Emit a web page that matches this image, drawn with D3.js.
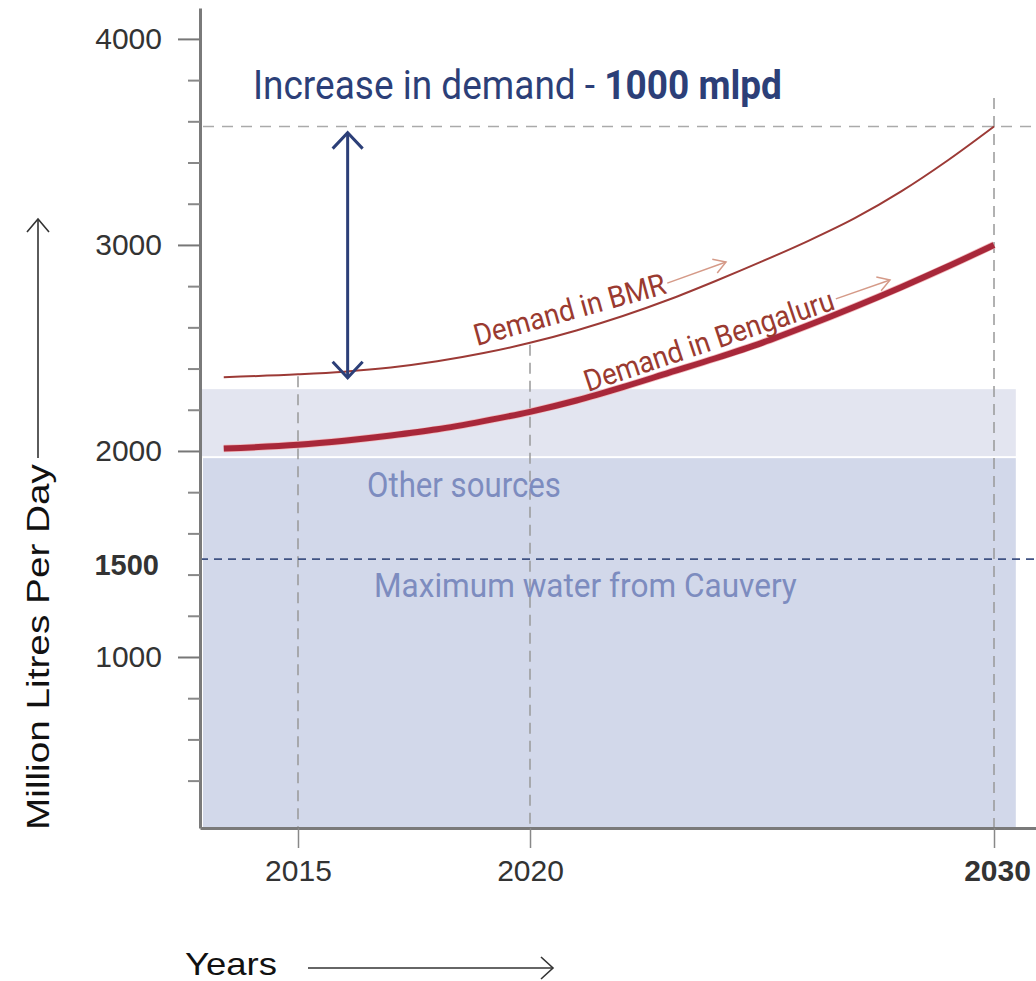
<!DOCTYPE html>
<html>
<head>
<meta charset="utf-8">
<script src="https://cdn.jsdelivr.net/npm/d3@7"></script>
<style>
  html, body { margin: 0; padding: 0; background: #fff; }
  svg { display: block; }
  .narrow { font-family: "Liberation Sans Narrow", "Roboto", "Liberation Sans", sans-serif; }
  .sans { font-family: "Liberation Sans", Arial, Helvetica, sans-serif; }
</style>
</head>
<body>
<div id="chart"></div>
<script>
// years on the x axis and the two demand curves (million litres per day)
const years = [2013.4, 2015, 2016, 2017, 2018, 2019, 2020, 2021, 2022, 2023, 2024, 2025, 2026, 2027, 2028, 2029, 2030];
const demandBengaluru = [2012, 2030, 2050, 2075, 2105, 2145, 2190, 2245, 2310, 2380, 2450, 2525, 2610, 2700, 2795, 2895, 3000];
const demandBMR = [2358, 2372, 2385, 2405, 2435, 2475, 2525, 2585, 2655, 2735, 2825, 2920, 3020, 3130, 3260, 3410, 3575];

// supply bands (top value of each band) and the Cauvery limit
const supplyBands = [
  {name: "total", top: 2300},
  {name: "Other sources", top: 1970}
];
const cauveryMax = 1475;
const bandEndYear = 2030.47;

// axis ticks
const yMajorTicks = [1000, 2000, 3000, 4000];
const yMinorTicks = d3.range(400, 4000, 200).filter(v => v % 1000 !== 0);
const xTicks = [2015, 2020, 2030];

// the increase-in-demand arrow
const increaseArrow = {year: 2016.07, from: 2355, to: 3545};

const width = 1036, height = 981;

const svg = d3.select("#chart")
  .append("svg")
  .attr("width", width)
  .attr("height", height);

const x = d3.scaleLinear()
  .domain([2012.888, 2030.905])
  .range([200, 1036]);

const y = d3.scaleLinear()
  .domain([170, 4150])
  .range([828, 8]);

// squeeze a text horizontally so it spans the given width (condensed look)
function narrowText(parent, tx, ty, w, angle) {
  const g = parent.append("g");
  const t = g.append("text").attr("class", "narrow");
  return {
    t: t,
    fit: function () {
      const natural = t.node().getComputedTextLength();
      g.attr("transform", `translate(${tx},${ty}) rotate(${angle || 0}) scale(${w / natural},1)`);
      return t;
    }
  };
}

// shaded supply bands
svg.append("rect")
  .attr("x", x.range()[0])
  .attr("y", y(supplyBands[0].top))
  .attr("width", x(bandEndYear) - x.range()[0])
  .attr("height", y(supplyBands[1].top) - y(supplyBands[0].top) - 1)
  .attr("fill", "#e3e5f0");

svg.append("rect")
  .attr("x", x.range()[0] + 3)
  .attr("y", y(supplyBands[1].top) + 1)
  .attr("width", x(bandEndYear) - x.range()[0] - 3)
  .attr("height", y.range()[0] - y(supplyBands[1].top) - 1)
  .attr("fill", "#d2d8ea");

// horizontal dashed line at BMR 2030 demand
svg.append("line")
  .attr("x1", x.range()[0] + 3).attr("x2", width)
  .attr("y1", y(demandBMR[demandBMR.length - 1]))
  .attr("y2", y(demandBMR[demandBMR.length - 1]))
  .attr("stroke", "#aaa")
  .attr("stroke-width", 1.5)
  .attr("stroke-dasharray", "11,8");

// vertical dashed gridlines
const gridTop = {2015: y(demandBMR[1]) + 2, 2020: y(demandBMR[6]) + 2, 2030: 98};
svg.append("g")
  .selectAll("line")
  .data(xTicks)
  .enter()
  .append("line")
  .attr("x1", d => x(d)).attr("x2", d => x(d))
  .attr("y1", d => gridTop[d])
  .attr("y2", y.range()[0])
  .attr("stroke", "#999")
  .attr("stroke-width", 1.5)
  .attr("stroke-dasharray", "11,7");

// Cauvery max dashed line
svg.append("line")
  .attr("x1", x.range()[0]).attr("x2", width)
  .attr("y1", y(cauveryMax)).attr("y2", y(cauveryMax))
  .attr("stroke", "#3f5283")
  .attr("stroke-width", 1.6)
  .attr("stroke-dasharray", "8,6");

// band labels
const other = narrowText(svg, 367, 497, 194);
other.t.attr("font-size", 35).attr("fill", "#7d8cbf").text("Other sources");
other.fit();

const cauv = narrowText(svg, 374, 597, 423);
cauv.t.attr("font-size", 33).attr("fill", "#7d8cbf").text("Maximum water from Cauvery");
cauv.fit();

// demand curves
const line = d3.line()
  .x((d, i) => x(years[i]))
  .y(d => y(d))
  .curve(d3.curveMonotoneX);

svg.append("path")
  .datum(demandBMR)
  .attr("fill", "none")
  .attr("stroke", "#9c3a36")
  .attr("stroke-width", 2)
  .attr("d", line);

svg.append("path")
  .datum(demandBengaluru)
  .attr("fill", "none")
  .attr("stroke", "#f2b8bc")
  .attr("stroke-width", 7.5)
  .attr("d", line);

svg.append("path")
  .datum(demandBengaluru)
  .attr("fill", "none")
  .attr("stroke", "#a8283a")
  .attr("stroke-width", 6)
  .attr("d", line);

// y axis
const yAxisMajor = d3.axisLeft(y)
  .tickValues(yMajorTicks)
  .tickSize(22)
  .tickSizeOuter(0)
  .tickPadding(16)
  .tickFormat(d3.format("d"));

const gy = svg.append("g")
  .attr("transform", `translate(${x.range()[0]},0)`)
  .call(yAxisMajor);

gy.select(".domain").attr("stroke", "#7a7a7a").attr("stroke-width", 3);
gy.selectAll(".tick line").attr("stroke", "#777").attr("stroke-width", 2);
gy.selectAll(".tick text")
  .attr("class", "sans")
  .attr("font-size", 30)
  .attr("fill", "#333");

const gyMinor = svg.append("g")
  .attr("transform", `translate(${x.range()[0]},0)`)
  .call(d3.axisLeft(y).tickValues(yMinorTicks).tickSize(12).tickFormat(""));
gyMinor.select(".domain").remove();
gyMinor.selectAll(".tick line").attr("stroke", "#888").attr("stroke-width", 2);

// bold 1500 label at the Cauvery line
svg.append("text")
  .attr("class", "sans")
  .attr("x", 159)
  .attr("y", y(cauveryMax))
  .attr("dy", "0.55em")
  .attr("text-anchor", "end")
  .attr("font-size", 29)
  .attr("font-weight", "bold")
  .attr("fill", "#333")
  .text("1500");

// x axis
const gx = svg.append("g")
  .attr("transform", `translate(0,${y.range()[0]})`)
  .call(d3.axisBottom(x).tickValues(xTicks).tickSize(20).tickSizeOuter(0).tickPadding(12).tickFormat(d3.format("d")));

gx.select(".domain").attr("stroke", "#7a7a7a").attr("stroke-width", 3);
gx.selectAll(".tick line").attr("stroke", "#888").attr("stroke-width", 1.5);
gx.selectAll(".tick text")
  .attr("class", "sans")
  .attr("font-size", 30)
  .attr("fill", "#333")
  .attr("font-weight", d => d === 2030 ? "bold" : "normal")
  .attr("dx", d => d === 2030 ? 3 : 0);

// increase in demand arrow (double headed)
const ax = x(increaseArrow.year);
const aTop = y(increaseArrow.to), aBot = y(increaseArrow.from);
const navy = "#2c3f78";
svg.append("line")
  .attr("x1", ax).attr("x2", ax)
  .attr("y1", aTop + 1).attr("y2", aBot - 1)
  .attr("stroke", navy).attr("stroke-width", 3);
svg.append("path")
  .attr("d", `M${ax - 15},${aTop + 16}L${ax},${aTop}L${ax + 15},${aTop + 16}`)
  .attr("fill", "none").attr("stroke", navy).attr("stroke-width", 3);
svg.append("path")
  .attr("d", `M${ax - 15},${aBot - 16}L${ax},${aBot}L${ax + 15},${aBot - 16}`)
  .attr("fill", "none").attr("stroke", navy).attr("stroke-width", 3);

// title
const title = narrowText(svg, 253, 99, 529);
title.t.attr("font-size", 41).attr("fill", navy);
title.t.append("tspan").text("Increase in demand - ");
title.t.append("tspan").attr("font-weight", "bold").text("1000 mlpd");
title.fit();

// curve labels with small arrows
function curveLabel(text, x0, y0, angle, len, size, arrowTo) {
  const lbl = narrowText(svg, x0, y0, len, angle);
  lbl.t.attr("font-size", size).attr("fill", "#9a3a30").text(text);
  lbl.fit();
  const rad = angle * Math.PI / 180;
  const ex = x0 + len * Math.cos(rad), ey = y0 + len * Math.sin(rad);
  const sx = ex + 2 * Math.sin(rad), sy = ey - 10;
  svg.append("line")
    .attr("x1", sx).attr("y1", sy)
    .attr("x2", arrowTo[0]).attr("y2", arrowTo[1])
    .attr("stroke", "#d59a88").attr("stroke-width", 1.5);
  const a = Math.atan2(arrowTo[1] - sy, arrowTo[0] - sx);
  const h = 14, spread = 0.55;
  svg.append("path")
    .attr("d", `M${arrowTo[0] - h * Math.cos(a - spread)},${arrowTo[1] - h * Math.sin(a - spread)}` +
      `L${arrowTo[0]},${arrowTo[1]}` +
      `L${arrowTo[0] - h * Math.cos(a + spread)},${arrowTo[1] - h * Math.sin(a + spread)}`)
    .attr("fill", "none").attr("stroke", "#d59a88").attr("stroke-width", 1.5);
}

curveLabel("Demand in BMR", 477, 346, -15.5, 198, 30, [726, 262]);
curveLabel("Demand in Bengaluru", 588, 392, -18.5, 262, 30, [890, 280]);

// axis titles with arrows
svg.append("text")
  .attr("class", "sans")
  .attr("transform", "translate(49,830) rotate(-90)")
  .attr("font-size", 31)
  .attr("fill", "#111")
  .attr("textLength", 366)
  .attr("lengthAdjust", "spacingAndGlyphs")
  .text("Million Litres Per Day");

svg.append("line")
  .attr("x1", 38).attr("x2", 38).attr("y1", 458).attr("y2", 219)
  .attr("stroke", "#333").attr("stroke-width", 1.6);
svg.append("path")
  .attr("d", "M27,232L38,219L49,232")
  .attr("fill", "none").attr("stroke", "#333").attr("stroke-width", 1.6);

svg.append("text")
  .attr("class", "sans")
  .attr("x", 185)
  .attr("y", 975)
  .attr("font-size", 32)
  .attr("fill", "#111")
  .attr("textLength", 92)
  .attr("lengthAdjust", "spacingAndGlyphs")
  .text("Years");

svg.append("line")
  .attr("x1", 308).attr("x2", 553).attr("y1", 968).attr("y2", 968)
  .attr("stroke", "#333").attr("stroke-width", 1.6);
svg.append("path")
  .attr("d", "M541,957L553,968L541,979")
  .attr("fill", "none").attr("stroke", "#333").attr("stroke-width", 1.6);
</script>
</body>
</html>
